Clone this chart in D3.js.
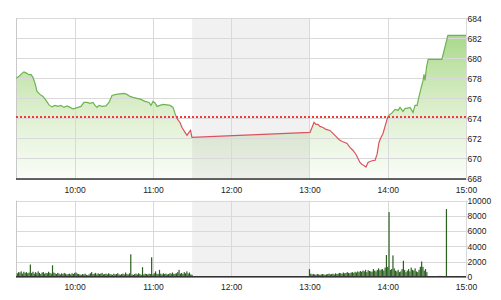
<!DOCTYPE html>
<html><head><meta charset="utf-8">
<script src="https://cdn.jsdelivr.net/npm/d3@7"></script>
<style>
html,body{margin:0;padding:0;background:#fff;}
svg{display:block;font-family:"Liberation Sans",Arial,sans-serif;}
</style></head>
<body>
<svg id="c" width="501" height="300"></svg>
<script>
// ---- data ----
const openMin = 555; // 9:15 in minutes after midnight
const refPrice = 674.1;
const priceYTicks = [668, 670, 672, 674, 676, 678, 680, 682, 684];
const volYTicks = [0, 2000, 4000, 6000, 8000, 10000];
const timeTicks = ["10:00", "11:00", "12:00", "13:00", "14:00", "15:00"];
const lunch = ["11:30", "13:00"];
// minutes after 9:15
const priceT = [0,2.3,4.6,6.1,8.4,10,11.5,13,14.6,16.1,18.4,20.7,23,25.3,27.6,29.9,32.2,34.5,36.8,39.1,41.4,43.7,45.2,47.5,49.8,52.1,54.4,56.7,59,60.6,62.1,63.6,65.9,69,71.3,73.6,76.7,79.7,82.8,85.1,87.4,89.7,92.8,95.8,98.9,102,103.5,105,106.6,108.1,110.4,112.7,115.8,118.1,120.4,121.9,123.4,125.7,127.3,129.6,131.1,132.6,133.8,134.9,
  225.4,228.5,230,231.5,233,235.4,237.7,240.7,243,245.3,247.6,250,252.2,253.8,256,258.4,260.7,262.2,263.7,265.3,266.8,268.3,269.9,271.4,273.7,275.2,276.8,278.3,279.8,281.4,282.9,285.2,286.7,288.3,290.6,292.9,294.4,296.7,298.3,299.8,302.1,304.4,305.9,307.5,309,310.5,312.1,312.8,313.6,314.7,316,326.5,331.1,345];
const priceV = [678.0,678.2,678.5,678.65,678.5,678.35,678.4,678.1,677.5,676.7,676.4,676.2,675.8,675.35,675.15,675.3,675.2,675.3,675.1,675.25,675.1,674.95,675.0,675.1,675.2,675.6,675.6,675.5,675.6,675.3,675.1,675.3,675.2,675.25,675.6,676.3,676.4,676.45,676.5,676.4,676.2,676.1,676.0,675.9,675.7,675.6,675.3,675.7,675.55,675.2,675.3,675.4,675.35,675.3,675.1,674.5,674.0,673.6,673.1,672.6,672.3,672.6,672.8,672.1,
  672.6,673.6,673.4,673.4,673.2,673.1,672.9,672.8,672.5,672.2,671.9,671.7,671.6,671.5,671.1,670.8,670.4,670.0,669.6,669.4,669.3,669.15,669.6,669.7,669.8,669.8,670.4,671.6,672.1,672.5,673.2,674.2,674.4,674.55,674.9,674.8,675.1,674.7,675.0,675.0,675.1,674.6,675.3,675.3,676.2,677.0,677.8,678.4,677.8,679.1,679.9,679.9,682.3,682.3];
// per-minute volume, morning from minute 1 (9:16)
const volMorningStart = 1;
const volMorning = [450,600,550,700,400,650,500,600,450,550,
  1600,500,650,400,600,450,700,500,350,550,
  600,400,500,450,650,500,400,1500,550,450,
  350,500,400,300,450,350,500,400,300,350,
  400,300,450,350,500,550,400,350,300,250,
  350,300,400,250,200,300,450,600,350,400,
  500,300,450,350,400,500,300,350,400,300,
  450,350,300,250,400,300,350,450,300,250,
  350,400,300,550,350,300,450,2950,300,250,
  350,400,300,450,350,250,1250,300,400,350,
  300,400,350,2550,300,450,700,400,350,900,
  400,300,450,350,400,300,350,450,400,550,
  350,400,450,600,900,400,500,350,600,450,
  700,400,550,300,250];
// afternoon from minute 225 (13:00)
const volAfternoonStart = 225;
const volAfternoon = [1000,400,300,350,300,250,350,300,250,300,
  350,300,250,300,350,400,300,350,400,300,
  450,350,400,500,450,400,550,450,500,600,
  500,450,550,600,500,650,550,700,600,750,
  650,800,700,900,600,850,750,700,650,1000,
  800,700,900,1100,850,950,1000,800,1200,2850,
  1300,8500,900,1000,2800,1100,800,700,900,600,
  700,1000,2100,900,600,800,1000,700,1200,900,
  800,1100,700,600,900,1300,2000,1300,800,1000,600];
const volLateT = [323, 325, 327, 330, 338];
const volLateV = [100, 120, 100, 8900, 100];

// ---- build ----
const toMin = s => { const [h, m] = s.split(":").map(Number); return h * 60 + m; };
const fmt = m => `${Math.floor(m / 60)}:${String(m % 60).padStart(2, "0")}`;
const svg = d3.select("#c");
const L = 16, R = 466;
const x = d3.scaleLinear().domain([openMin, toMin("15:00")]).range([L, R]);
const yP = d3.scaleLinear().domain([668, 684]).range([178.5, 18.3]);
const yV = d3.scaleLinear().domain([0, 10000]).range([276.7, 200.7]);

const price = priceT.map((t, i) => ({ t: openMin + t, v: priceV[i] }));
const vols = [];
volMorning.forEach((v, i) => vols.push({ t: openMin + volMorningStart + i, v }));
volAfternoon.forEach((v, i) => vols.push({ t: openMin + volAfternoonStart + i, v }));
volLateT.forEach((t, i) => vols.push({ t: openMin + t, v: volLateV[i] }));

const defs = svg.append("defs");
const grad = defs.append("linearGradient").attr("id", "g").attr("gradientUnits", "userSpaceOnUse")
  .attr("x1", 0).attr("x2", 0).attr("y1", yP(684)).attr("y2", yP(668));
[[0, "#9cd27b"], [0.3, "#c1e3a8"], [0.6, "#dff0d1"], [1, "#fafdf8"]].forEach(([o, c]) =>
  grad.append("stop").attr("offset", o).attr("stop-color", c));
const refY = Math.round(yP(refPrice));
defs.append("clipPath").attr("id", "above").append("rect")
  .attr("x", L).attr("y", 0).attr("width", R - L).attr("height", refY);
defs.append("clipPath").attr("id", "below").append("rect")
  .attr("x", L).attr("y", refY).attr("width", R - L).attr("height", 300);

// ---- price panel ----
const lunchX0 = x(toMin(lunch[0])), lunchX1 = x(toMin(lunch[1]));
svg.append("path").datum(price).attr("fill", "url(#g)")
  .attr("d", d3.area().x(d => x(d.t)).y0(yP(668)).y1(d => yP(d.v)));
svg.append("rect").attr("x", lunchX0).attr("y", yP(684)).attr("width", lunchX1 - lunchX0)
  .attr("height", yP(668) - yP(684)).attr("fill", "#000").attr("opacity", 0.055);

const gridCol = "#d9d9d9";
svg.append("g").selectAll("line").data(priceYTicks).join("line")
  .attr("x1", L).attr("x2", R + 2).attr("y1", d => Math.round(yP(d)) + 0.5).attr("y2", d => Math.round(yP(d)) + 0.5)
  .attr("stroke", gridCol);
svg.append("g").selectAll("line").data(timeTicks).join("line")
  .attr("x1", d => Math.round(x(toMin(d))) + 0.5).attr("x2", d => Math.round(x(toMin(d))) + 0.5)
  .attr("y1", yP(684)).attr("y2", yP(668)).attr("stroke", gridCol);
svg.append("line").attr("x1", L + 0.5).attr("x2", L + 0.5).attr("y1", yP(684)).attr("y2", yP(668)).attr("stroke", "#c8c8c8");

const line = d3.line().x(d => x(d.t)).y(d => yP(d.v));
svg.append("path").datum(price).attr("d", line).attr("fill", "none")
  .attr("stroke", "#6cb450").attr("stroke-width", 1.2).attr("clip-path", "url(#above)");
svg.append("path").datum(price).attr("d", line).attr("fill", "none")
  .attr("stroke", "#d9535e").attr("stroke-width", 1.2).attr("clip-path", "url(#below)");
svg.append("line").attr("x1", L).attr("x2", R).attr("y1", refY).attr("y2", refY)
  .attr("stroke", "#f23a3a").attr("stroke-width", 2).attr("stroke-dasharray", "2,2");

svg.append("line").attr("x1", L).attr("x2", R).attr("y1", yP(668) + 0.5).attr("y2", yP(668) + 0.5)
  .attr("stroke", "#333").attr("stroke-width", 1.6);

const axP = svg.append("g").attr("transform", `translate(${R},0)`)
  .call(d3.axisRight(yP).tickValues(priceYTicks).tickSize(0).tickPadding(1.5));
const axPX = svg.append("g").attr("transform", `translate(0,${yP(668) + 8.5})`)
  .call(d3.axisBottom(x).tickValues(timeTicks.map(toMin)).tickFormat(fmt).tickSize(0).tickPadding(0));

// ---- volume panel ----
svg.append("rect").attr("x", lunchX0).attr("y", yV(10000)).attr("width", lunchX1 - lunchX0)
  .attr("height", yV(0) - yV(10000)).attr("fill", "#000").attr("opacity", 0.055);
svg.append("g").selectAll("line").data(volYTicks).join("line")
  .attr("x1", L).attr("x2", R + 2).attr("y1", d => Math.round(yV(d)) + 0.5).attr("y2", d => Math.round(yV(d)) + 0.5)
  .attr("stroke", gridCol);
svg.append("g").selectAll("line").data(timeTicks).join("line")
  .attr("x1", d => Math.round(x(toMin(d))) + 0.5).attr("x2", d => Math.round(x(toMin(d))) + 0.5)
  .attr("y1", yV(10000)).attr("y2", yV(0)).attr("stroke", gridCol);
svg.append("line").attr("x1", L + 0.5).attr("x2", L + 0.5).attr("y1", yV(10000)).attr("y2", yV(0)).attr("stroke", "#c8c8c8");

svg.append("g").selectAll("rect").data(vols).join("rect")
  .attr("x", d => x(d.t) - 0.6).attr("width", 1.2)
  .attr("y", d => yV(d.v)).attr("height", d => yV(0) - yV(d.v))
  .attr("fill", "#2a601e");

svg.append("line").attr("x1", L).attr("x2", R).attr("y1", yV(0)).attr("y2", yV(0))
  .attr("stroke", "#333").attr("stroke-width", 1.6);

const axV = svg.append("g").attr("transform", `translate(${R},0)`)
  .call(d3.axisRight(yV).tickValues(volYTicks).tickFormat(d3.format("d")).tickSize(0).tickPadding(1.5));
const axVX = svg.append("g").attr("transform", `translate(0,${yV(0) + 7})`)
  .call(d3.axisBottom(x).tickValues(timeTicks.map(toMin)).tickFormat(fmt).tickSize(0).tickPadding(0));

[axP, axPX, axV, axVX].forEach(a => {
  a.select(".domain").remove();
  a.selectAll("text").attr("fill", "#222").style("font-size", "8.5px")
    .style("font-family", "'Liberation Sans',Arial,sans-serif");
});
</script>
</body></html>
